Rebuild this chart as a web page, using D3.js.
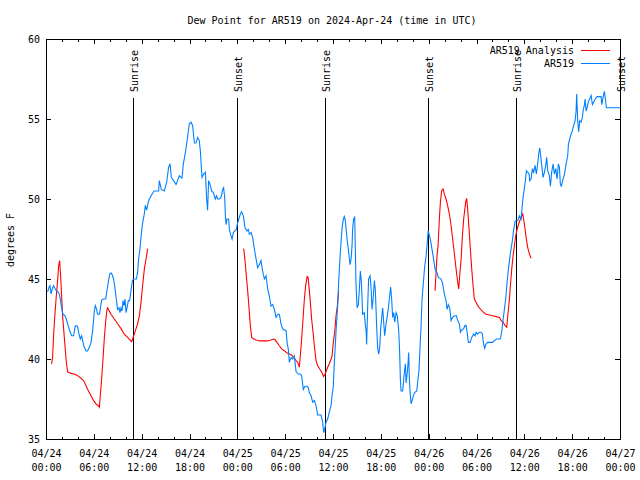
<!DOCTYPE html>
<html><head><meta charset="utf-8">
<script src="https://cdn.jsdelivr.net/npm/d3@7"></script>
<style>
body{margin:0;background:#fff}
svg{display:block}
text{font-family:"DejaVu Sans Mono","Liberation Mono",monospace;font-size:10px;fill:#000}
</style>
</head><body>
<svg id="chart" width="640" height="480"></svg>
<script>
// ---- data (hours since 2024-04-24 00:00 UTC, dew point in F) ----
const title = "Dew Point for AR519 on 2024-Apr-24 (time in UTC)";
const yLabel = "degrees F";
const seriesNames = ["AR519 Analysis", "AR519"];
const seriesColors = ["#ff0000", "#0080ff"];
const xTickHours = [0, 6, 12, 18, 24, 30, 36, 42, 48, 54, 60, 66, 72];
const xTickDates = ["04/24","04/24","04/24","04/24","04/25","04/25","04/25","04/25","04/26","04/26","04/26","04/26","04/27"];
const xTickTimes = ["00:00","06:00","12:00","18:00","00:00","06:00","12:00","18:00","00:00","06:00","12:00","18:00","00:00"];
const yTicks = [35, 40, 45, 50, 55, 60];
const sunEvents = [
  {label:"Sunrise", h:10.86}, {label:"Sunset", h:23.91},
  {label:"Sunrise", h:34.95}, {label:"Sunset", h:47.88},
  {label:"Sunrise", h:58.92}, {label:"Sunset", h:72.0}
];

const analysisRun1 = [[0.70,39.7],[0.83,40.1],[0.95,41.45],[1.08,42.5],[1.20,43.33],[1.33,44.17],[1.46,44.9],[1.58,45.83],[1.71,46.15],[1.83,45.2],[1.96,43.95],[2.08,42.7],[2.21,41.9],[2.38,40.83],[2.55,39.8],[2.71,39.2],[3.14,39.1],[3.55,39.06],[3.96,38.96],[4.39,38.8],[4.72,38.65],[5.02,38.33],[5.31,38.02],[5.65,37.7],[5.97,37.4],[6.27,37.2],[6.56,37.08],[6.69,36.98],[6.81,37.7],[6.98,38.75],[7.15,40.0],[7.31,41.25],[7.48,42.3],[7.65,43.1],[7.73,43.2],[7.94,43.0],[8.15,42.8],[8.57,42.5],[8.98,42.2],[9.41,41.9],[9.82,41.56],[10.24,41.35],[10.74,41.08],[10.86,41.25],[11.08,41.56],[11.29,41.9],[11.49,42.2],[11.71,42.7],[11.92,43.54],[12.12,44.58],[12.33,45.6],[12.55,46.25],[12.75,46.9]];

const analysisRun2 = [[24.79,46.9],[24.88,46.56],[25.00,45.94],[25.13,45.2],[25.26,44.48],[25.38,43.75],[25.51,42.9],[25.63,42.08],[25.80,41.35],[26.05,41.25],[26.35,41.19],[26.76,41.13],[27.17,41.13],[27.80,41.13],[28.23,41.19],[28.55,41.25],[28.73,41.2],[28.98,41.04],[29.27,40.83],[29.56,40.63],[29.90,40.52],[30.24,40.38],[30.52,40.31],[30.81,40.25],[31.06,40.1],[31.37,39.9],[31.57,39.8],[31.78,39.48],[31.90,40.2],[32.07,41.25],[32.24,42.5],[32.41,43.75],[32.57,44.58],[32.75,45.15],[32.87,45.1],[33.00,44.48],[33.16,43.54],[33.32,42.5],[33.50,41.67],[33.66,40.83],[33.87,39.9],[34.07,39.6],[34.33,39.375],[34.58,39.17],[34.83,38.9],[35.00,39.06],[35.17,39.27],[35.33,39.48],[35.54,39.7],[35.76,40.0],[35.88,40.2],[36.04,41.04],[36.21,41.67],[36.38,42.7],[36.55,43.33],[36.71,44.27]];

const analysisRun3 = [[48.80,44.27],[48.93,45.4],[49.05,46.46],[49.18,47.08],[49.34,48.75],[49.47,49.8],[49.63,50.52],[49.81,50.63],[49.97,50.3],[50.18,50.0],[50.38,49.58],[50.60,49.06],[50.81,48.33],[51.01,47.5],[51.23,46.56],[51.44,45.625],[51.64,44.8],[51.77,44.375],[51.89,45.2],[52.07,46.25],[52.23,47.7],[52.39,48.75],[52.64,49.8],[52.77,50.04],[52.89,49.375],[53.07,48.1],[53.23,46.875],[53.40,45.625],[53.57,44.58],[53.73,43.75],[53.95,43.54],[54.15,43.33],[54.49,43.125],[54.78,42.96],[55.20,42.8],[55.62,42.75],[56.03,42.7],[56.46,42.65],[56.87,42.6],[57.09,42.4],[57.34,42.3],[57.59,42.08],[57.79,41.98],[57.92,42.7],[58.09,43.54],[58.25,44.58],[58.42,45.625],[58.59,46.46],[58.75,47.08],[58.92,47.7],[59.09,48.1],[59.29,48.44],[59.51,48.75],[59.80,49.06],[60.01,48.44],[60.22,47.6],[60.42,46.98],[60.64,46.56],[60.85,46.3]];

const ar519 = [[0.20,44.2],[0.38,44.48],[0.50,44.58],[0.63,44.06],[0.79,44.4],[0.95,44.58],[1.13,44.4],[1.29,44.27],[1.54,44.17],[1.67,44.06],[1.79,43.75],[1.96,43.2],[2.13,42.8],[2.38,42.7],[2.55,42.5],[2.71,42.2],[2.89,41.9],[3.05,41.67],[3.21,41.45],[3.46,41.45],[3.64,42.0],[3.76,42.1],[3.96,42.04],[4.14,41.56],[4.30,41.25],[4.47,41.45],[4.64,41.04],[4.81,40.73],[5.02,40.5],[5.22,40.5],[5.43,40.73],[5.65,41.04],[5.85,41.77],[6.06,43.0],[6.19,43.33],[6.35,43.1],[6.47,42.8],[6.72,42.8],[6.90,43.44],[6.98,43.7],[7.23,43.75],[7.48,43.75],[7.65,44.27],[7.82,44.8],[7.98,45.3],[8.15,45.38],[8.32,45.25],[8.48,45.0],[8.66,44.4],[8.82,43.75],[8.98,43.1],[9.16,43.2],[9.28,42.9],[9.41,43.2],[9.54,43.0],[9.66,43.65],[9.79,43.33],[9.91,43.75],[10.04,42.9],[10.16,43.2],[10.33,43.65],[10.49,43.65],[10.66,44.27],[10.83,44.9],[10.99,45.0],[11.33,45.0],[11.49,45.4],[11.62,46.25],[11.79,46.9],[11.92,47.6],[12.04,48.2],[12.14,48.55],[12.33,49.06],[12.46,49.6],[12.62,49.3],[12.83,49.8],[12.96,50.0],[13.30,50.3],[13.55,50.5],[14.13,50.5],[14.21,51.15],[14.47,50.6],[14.84,50.5],[15.13,51.04],[15.38,51.98],[15.56,52.2],[15.72,51.35],[16.06,51.1],[16.31,50.9],[16.72,51.45],[17.06,51.3],[17.23,52.2],[17.48,52.9],[17.73,53.75],[17.98,54.7],[18.19,54.8],[18.39,54.6],[18.61,53.5],[18.82,53.5],[19.02,53.85],[19.23,53.65],[19.36,53.0],[19.57,51.35],[19.77,51.56],[19.99,51.67],[20.15,50.0],[20.27,49.3],[20.40,51.15],[20.58,50.9],[20.78,50.5],[20.99,50.4],[21.24,50.0],[21.40,50.2],[21.53,50.0],[21.74,50.0],[21.96,50.1],[22.16,50.6],[22.28,50.7],[22.41,50.1],[22.50,48.95],[22.58,48.4],[22.71,48.75],[22.91,48.75],[23.00,48.1],[23.21,47.7],[23.34,47.5],[23.50,47.9],[23.66,48.0],[23.87,48.1],[24.04,48.5],[24.38,49.06],[24.54,49.2],[24.75,48.95],[24.97,48.2],[25.22,48.0],[25.38,48.1],[25.51,47.8],[25.72,47.9],[25.92,47.6],[26.13,46.9],[26.35,46.25],[26.55,45.7],[26.76,45.9],[26.97,46.15],[27.17,45.5],[27.39,45.0],[27.60,45.2],[27.80,44.4],[28.01,43.95],[28.23,43.3],[28.43,43.4],[28.64,43.1],[28.86,42.6],[29.06,42.8],[29.27,42.8],[29.48,42.2],[29.68,41.9],[29.90,41.8],[30.11,41.8],[30.24,41.04],[30.40,40.6],[30.52,39.8],[30.74,40.1],[30.94,40.0],[31.15,40.2],[31.37,39.2],[31.65,39.06],[31.90,39.06],[32.07,38.96],[32.28,38.1],[32.49,38.3],[32.75,38.3],[32.91,38.2],[33.03,37.9],[33.25,37.7],[33.45,37.3],[33.66,37.4],[33.87,37.1],[34.07,36.5],[34.29,36.5],[34.50,36.5],[34.70,36.05],[34.83,35.4],[34.95,35.6],[35.13,36.05],[35.33,36.25],[35.54,36.7],[35.76,37.1],[35.88,37.7],[36.04,38.3],[36.17,39.8],[36.38,41.7],[36.58,43.3],[36.71,44.8],[36.89,46.45],[37.01,47.3],[37.14,48.2],[37.30,48.75],[37.42,48.9],[37.55,48.65],[37.76,47.5],[37.96,46.7],[38.14,45.9],[38.27,46.25],[38.39,47.1],[38.47,48.2],[38.59,48.75],[38.72,48.85],[38.80,46.9],[38.89,44.6],[39.02,43.2],[39.18,43.4],[39.31,44.4],[39.43,45.5],[39.56,44.8],[39.72,42.8],[39.93,42.9],[40.06,42.1],[40.15,41.8],[40.22,40.9],[40.35,43.3],[40.47,45.0],[40.65,45.2],[40.77,44.5],[40.90,43.1],[41.06,43.95],[41.19,44.9],[41.31,44.3],[41.40,43.1],[41.48,41.98],[41.60,40.7],[41.73,40.3],[41.85,40.7],[41.98,41.9],[42.15,42.8],[42.23,43.2],[42.36,42.3],[42.48,41.45],[42.66,42.2],[42.78,42.6],[42.95,43.2],[43.11,43.95],[43.23,44.5],[43.36,43.75],[43.48,42.6],[43.61,42.9],[43.74,42.3],[43.91,42.9],[44.07,42.7],[44.24,41.8],[44.36,40.4],[44.45,38.75],[44.54,38.0],[44.74,38.0],[44.91,38.96],[45.08,39.7],[45.17,38.5],[45.33,39.2],[45.42,39.8],[45.49,40.4],[45.58,38.75],[45.67,37.9],[45.79,37.2],[45.92,37.4],[46.08,37.7],[46.24,37.9],[46.50,38.0],[46.67,38.75],[46.80,39.4],[46.92,40.8],[47.05,42.1],[47.17,43.75],[47.34,44.8],[47.50,45.8],[47.68,46.45],[47.80,47.1],[47.93,48.0],[48.05,47.8],[48.21,47.5],[48.38,46.98],[48.59,46.35],[48.80,45.6],[49.05,45.4],[49.22,45.1],[49.56,45.0],[49.76,44.7],[49.97,44.06],[50.18,43.65],[50.31,43.1],[50.47,43.4],[50.64,43.2],[50.81,42.4],[51.01,42.6],[51.23,42.7],[51.48,42.7],[51.64,42.4],[51.85,42.2],[51.98,41.67],[52.14,41.8],[52.39,41.9],[52.57,42.1],[52.69,42.1],[52.82,41.67],[52.98,41.04],[53.19,41.04],[53.40,41.35],[53.65,41.56],[53.82,41.45],[53.95,41.67],[54.15,41.56],[54.36,41.67],[54.58,41.67],[54.74,41.56],[54.83,41.15],[54.90,40.9],[55.03,40.67],[55.15,40.9],[55.40,41.04],[55.74,41.04],[56.03,41.04],[56.24,41.15],[56.49,41.25],[56.75,41.25],[57.00,41.25],[57.16,41.67],[57.34,42.5],[57.50,43.1],[57.66,43.75],[57.84,44.8],[58.00,45.6],[58.16,46.25],[58.34,46.9],[58.50,47.4],[58.67,48.1],[58.84,48.6],[58.97,48.65],[59.17,48.65],[59.38,48.95],[59.59,48.75],[59.72,49.5],[59.84,50.1],[60.01,50.7],[60.13,51.15],[60.26,51.77],[60.42,51.67],[60.60,51.56],[60.67,51.15],[60.85,51.25],[61.01,51.9],[61.17,51.67],[61.35,52.1],[61.51,51.56],[61.68,52.2],[61.80,52.8],[61.93,53.2],[62.05,52.7],[62.18,52.1],[62.35,51.35],[62.52,51.67],[62.68,52.1],[62.81,52.6],[62.93,51.77],[63.14,51.45],[63.27,50.8],[63.43,51.67],[63.61,52.2],[63.77,51.56],[63.94,51.9],[64.11,51.25],[64.27,52.2],[64.40,51.98],[64.52,50.9],[64.65,50.8],[64.81,51.15],[65.03,51.56],[65.24,52.2],[65.44,52.7],[65.53,53.4],[65.69,53.75],[65.87,54.06],[66.03,54.27],[66.19,54.6],[66.37,54.9],[66.49,55.5],[66.57,56.56],[66.69,54.9],[66.82,54.2],[66.95,54.9],[67.12,54.8],[67.28,55.1],[67.37,55.5],[67.54,55.9],[67.62,56.25],[67.75,55.5],[67.87,55.7],[68.04,56.1],[68.20,56.25],[68.38,56.46],[68.54,55.9],[68.70,56.04],[68.88,56.25],[69.13,56.4],[69.42,56.4],[69.63,56.4],[69.71,55.9],[69.88,56.35],[70.04,56.73],[70.17,56.25],[70.29,55.7],[70.46,55.7],[72.00,55.7]];

// ---- drawing ----
const svg = d3.select("#chart");
const M = {left:46, right:620, top:39, bottom:439};
const x = d3.scaleLinear().domain([0, 72]).range([M.left, M.right]);
const y = d3.scaleLinear().domain([35, 60]).range([M.bottom, M.top]);

svg.append("rect").attr("width",640).attr("height",480).attr("fill","#fff");

// title
svg.append("text").attr("x", 332).attr("y", 23.5).attr("text-anchor","middle").text(title);

// y label
svg.append("text").attr("transform","translate(14,240) rotate(-90)")
   .attr("text-anchor","middle").text(yLabel);

// sunrise / sunset lines
const sun = svg.append("g");
sunEvents.forEach(e => {
  const xp = Math.round(x(e.h)) + 0.5;
  sun.append("line").attr("x1",xp).attr("x2",xp).attr("y1",M.top+59).attr("y2",M.bottom)
     .attr("stroke","#000").attr("stroke-width",1).attr("shape-rendering","crispEdges");
  sun.append("text").attr("transform",`translate(${xp+4},92) rotate(-90)`)
     .attr("text-anchor","start").text(e.label);
});

// series
const line = d3.line().x(d => x(d[0])).y(d => y(d[1]));
const g = svg.append("g");
[analysisRun1, analysisRun2, analysisRun3].forEach(run => {
  g.append("path").attr("d", line(run)).attr("fill","none")
   .attr("stroke", seriesColors[0]).attr("stroke-width",1.1);
});
g.append("path").attr("d", line(ar519)).attr("fill","none")
 .attr("stroke", seriesColors[1]).attr("stroke-width",1.1);

// frame
svg.append("rect").attr("x",M.left+0.5).attr("y",M.top+0.5)
   .attr("width",M.right-M.left).attr("height",M.bottom-M.top)
   .attr("fill","none").attr("stroke","#000").attr("shape-rendering","crispEdges");

// x ticks (minor every 2h, major every 6h) on bottom and top
const ax = svg.append("g").attr("shape-rendering","crispEdges");
d3.range(0, 73, 2).forEach(h => {
  const xp = Math.round(x(h)) + 0.5;
  const len = (h % 6 === 0) ? 5 : 2.5;
  ax.append("line").attr("x1",xp).attr("x2",xp).attr("y1",M.bottom).attr("y2",M.bottom-len).attr("stroke","#000");
  ax.append("line").attr("x1",xp).attr("x2",xp).attr("y1",M.top).attr("y2",M.top+len).attr("stroke","#000");
});
xTickHours.forEach((h, i) => {
  const t = svg.append("text").attr("x", x(h)).attr("text-anchor","middle");
  t.append("tspan").attr("x", x(h)+0.5).attr("y", 457).text(xTickDates[i]);
  t.append("tspan").attr("x", x(h)+0.5).attr("y", 471).text(xTickTimes[i]);
});

// y ticks left and right
yTicks.forEach(v => {
  const yp = Math.round(y(v)) + 0.5;
  ax.append("line").attr("x1",M.left).attr("x2",M.left+5).attr("y1",yp).attr("y2",yp).attr("stroke","#000");
  ax.append("line").attr("x1",M.right).attr("x2",M.right-5).attr("y1",yp).attr("y2",yp).attr("stroke","#000");
  svg.append("text").attr("x",40).attr("y",y(v)+0.5).attr("dy","0.35em").attr("text-anchor","end").text(v);
});

// legend
const leg = svg.append("g");
seriesNames.forEach((name, i) => {
  const yy = 50 + i*13;
  leg.append("text").attr("x",574).attr("y",yy).attr("dy","0.35em").attr("text-anchor","end").text(name);
  leg.append("line").attr("x1",581).attr("x2",610).attr("y1",yy+0.5).attr("y2",yy+0.5)
     .attr("stroke",seriesColors[i]).attr("stroke-width",1).attr("shape-rendering","crispEdges");
});
</script>
</body></html>
